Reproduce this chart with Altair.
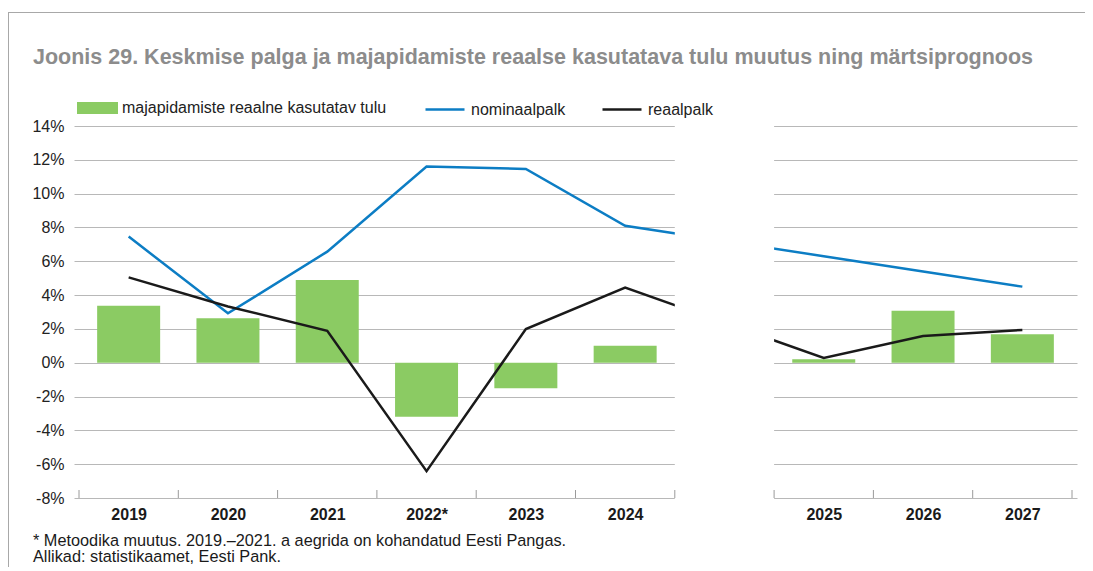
import altair as alt
import pandas as pd

# ---- data ----
years = ["2019", "2020", "2021", "2022*", "2023", "2024", "2025", "2026", "2027"]
# slot index along the axis; one empty slot separates history from the forecast
slots = [0, 1, 2, 3, 4, 5, 7, 8, 9]
gap_slot = [6]
income = [3.37, 2.63, 4.89, -3.2, -1.51, 1.0, 0.2, 3.08, 1.68]
nominal = [7.46, 2.92, 6.57, 11.6, 11.46, 8.1, 6.3, 5.4, 4.5]
real = [5.05, 3.33, 1.89, -6.41, 1.99, 4.45, 0.28, 1.58, 1.94]
y_ticks = [-8, -6, -4, -2, 0, 2, 4, 6, 8, 10, 12, 14]

BAR_NAME = "majapidamiste reaalne kasutatav tulu"
NOM_NAME = "nominaalpalk"
REAL_NAME = "reaalpalk"
TITLE = "Joonis 29. Keskmise palga ja majapidamiste reaalse kasutatava tulu muutus ning märtsiprognoos"
NOTE1 = "* Metoodika muutus. 2019.–2021. a aegrida on kohandatud Eesti Pangas."
NOTE2 = "Allikad: statistikaamet, Eesti Pank."

GREEN = "#8bcb63"
BLUE = "#0c7dc4"
BLACK = "#1a1a1a"
GRID = "#b8b8b8"
FONT = "Liberation Sans"

W, H = 1003, 372

bars = pd.DataFrame({"slot": slots, "year": years, "value": income, "series": BAR_NAME})
lines = pd.concat([
    pd.DataFrame({"slot": slots, "value": nominal, "series": NOM_NAME}),
    pd.DataFrame({"slot": slots, "value": real, "series": REAL_NAME}),
])
gap = pd.DataFrame({"lo": [g - 0.5 for g in gap_slot], "hi": [g + 0.5 for g in gap_slot]})
bounds = pd.DataFrame({"b": sorted({s - 0.5 for s in slots} | {s + 0.5 for s in slots})})

expr = "''"
for s, yname in reversed(list(zip(slots, years))):
    expr = f"datum.value == {s} ? '{yname}' : ({expr})"

xscale = alt.Scale(domain=[-0.5, 9.5], nice=False, zero=False)
yscale = alt.Scale(domain=[-8, 14], nice=False)

x_axis = alt.Axis(values=slots, labelExpr=expr, ticks=False, domain=False, grid=False,
                  labelPadding=8, labelFlush=False, labelOverlap=False, labelBound=False,
                  labelFont=FONT, labelFontSize=16, labelFontWeight="bold",
                  labelColor="#1a1a1a", title=None)
y_axis = alt.Axis(values=y_ticks, labelExpr="datum.value + '%'", domain=False, ticks=False,
                  grid=True, gridColor=GRID, gridWidth=1, labelPadding=10,
                  labelOverlap=False, labelFlush=False, labelBound=False,
                  labelFont=FONT, labelFontSize=16, labelColor="#222222", title=None)

X = alt.X("slot:Q", scale=xscale, axis=x_axis)
Y = alt.Y("value:Q", scale=yscale, axis=y_axis)

bar_layer = alt.Chart(bars).mark_bar(size=63).encode(
    x=X,
    y=Y,
    y2=alt.datum(0),
    fill=alt.Fill("series:N", scale=alt.Scale(domain=[BAR_NAME], range=[GREEN]),
                  legend=alt.Legend(orient="none", legendX=3, legendY=-38.5, title=None,
                                    symbolType="M-1,-0.29H1V0.29H-1Z", symbolSize=1681,
                                    symbolStrokeWidth=0, labelFont=FONT, labelFontSize=16,
                                    labelColor="#222222", labelOffset=4, labelLimit=500,
                                    padding=0)),
)

line_layer = alt.Chart(lines).mark_line(strokeWidth=2.5).encode(
    x=X,
    y=Y,
    stroke=alt.Stroke("series:N", scale=alt.Scale(domain=[NOM_NAME, REAL_NAME], range=[BLUE, BLACK]),
                      legend=alt.Legend(orient="none", legendX=350, legendY=-37.5, title=None,
                                        direction="horizontal", symbolType="stroke",
                                        symbolSize=1521, symbolStrokeWidth=2.5,
                                        labelFont=FONT, labelFontSize=16, labelColor="#222222",
                                        labelOffset=5, columnPadding=31, labelLimit=300,
                                        padding=0)),
)

mask = alt.Chart(gap).mark_rect(color="white").encode(
    x="lo:Q", x2="hi:Q", y=alt.value(-3), y2=alt.value(H + 3)
)

ticks = alt.Chart(bounds).mark_rule(color="#9a9a9a", strokeWidth=1).encode(
    x="b:Q", y=alt.value(H - 8), y2=alt.value(H)
)

one = pd.DataFrame({"t": [TITLE], "n1": [NOTE1], "n2": [NOTE2]})
title_layer = alt.Chart(one).mark_text(align="left", baseline="alphabetic", font=FONT,
                                       fontSize=21.5, fontWeight="bold", color="#8c8c8c").encode(
    text="t:N", x=alt.value(-41), y=alt.value(-62))
note1 = alt.Chart(one).mark_text(align="left", baseline="alphabetic", font=FONT,
                                 fontSize=16.3, color="#1a1a1a").encode(
    text="n1:N", x=alt.value(-41), y=alt.value(419.5))
note2 = alt.Chart(one).mark_text(align="left", baseline="alphabetic", font=FONT,
                                 fontSize=16.3, color="#1a1a1a").encode(
    text="n2:N", x=alt.value(-41), y=alt.value(436))
frame_v = alt.Chart(one).mark_rule(color="#a8a8a8", strokeWidth=1).encode(
    x=alt.value(-65.5), y=alt.value(-113.5), y2=alt.value(446))
frame_h = alt.Chart(one).mark_rule(color="#a8a8a8", strokeWidth=1).encode(
    x=alt.value(-66), x2=alt.value(1020), y=alt.value(-113.5))

chart = alt.layer(bar_layer, line_layer, mask, ticks, title_layer, note1, note2, frame_v, frame_h).resolve_scale(
    fill="independent", stroke="independent"
).properties(
    width=W, height=H,
    autosize=alt.AutoSizeParams(type="none"),
    padding={"left": 66, "top": 118, "right": 8, "bottom": 69},
).configure_view(stroke=None)

chart.save("out.html", embed_options={"renderer": "svg", "actions": False})
